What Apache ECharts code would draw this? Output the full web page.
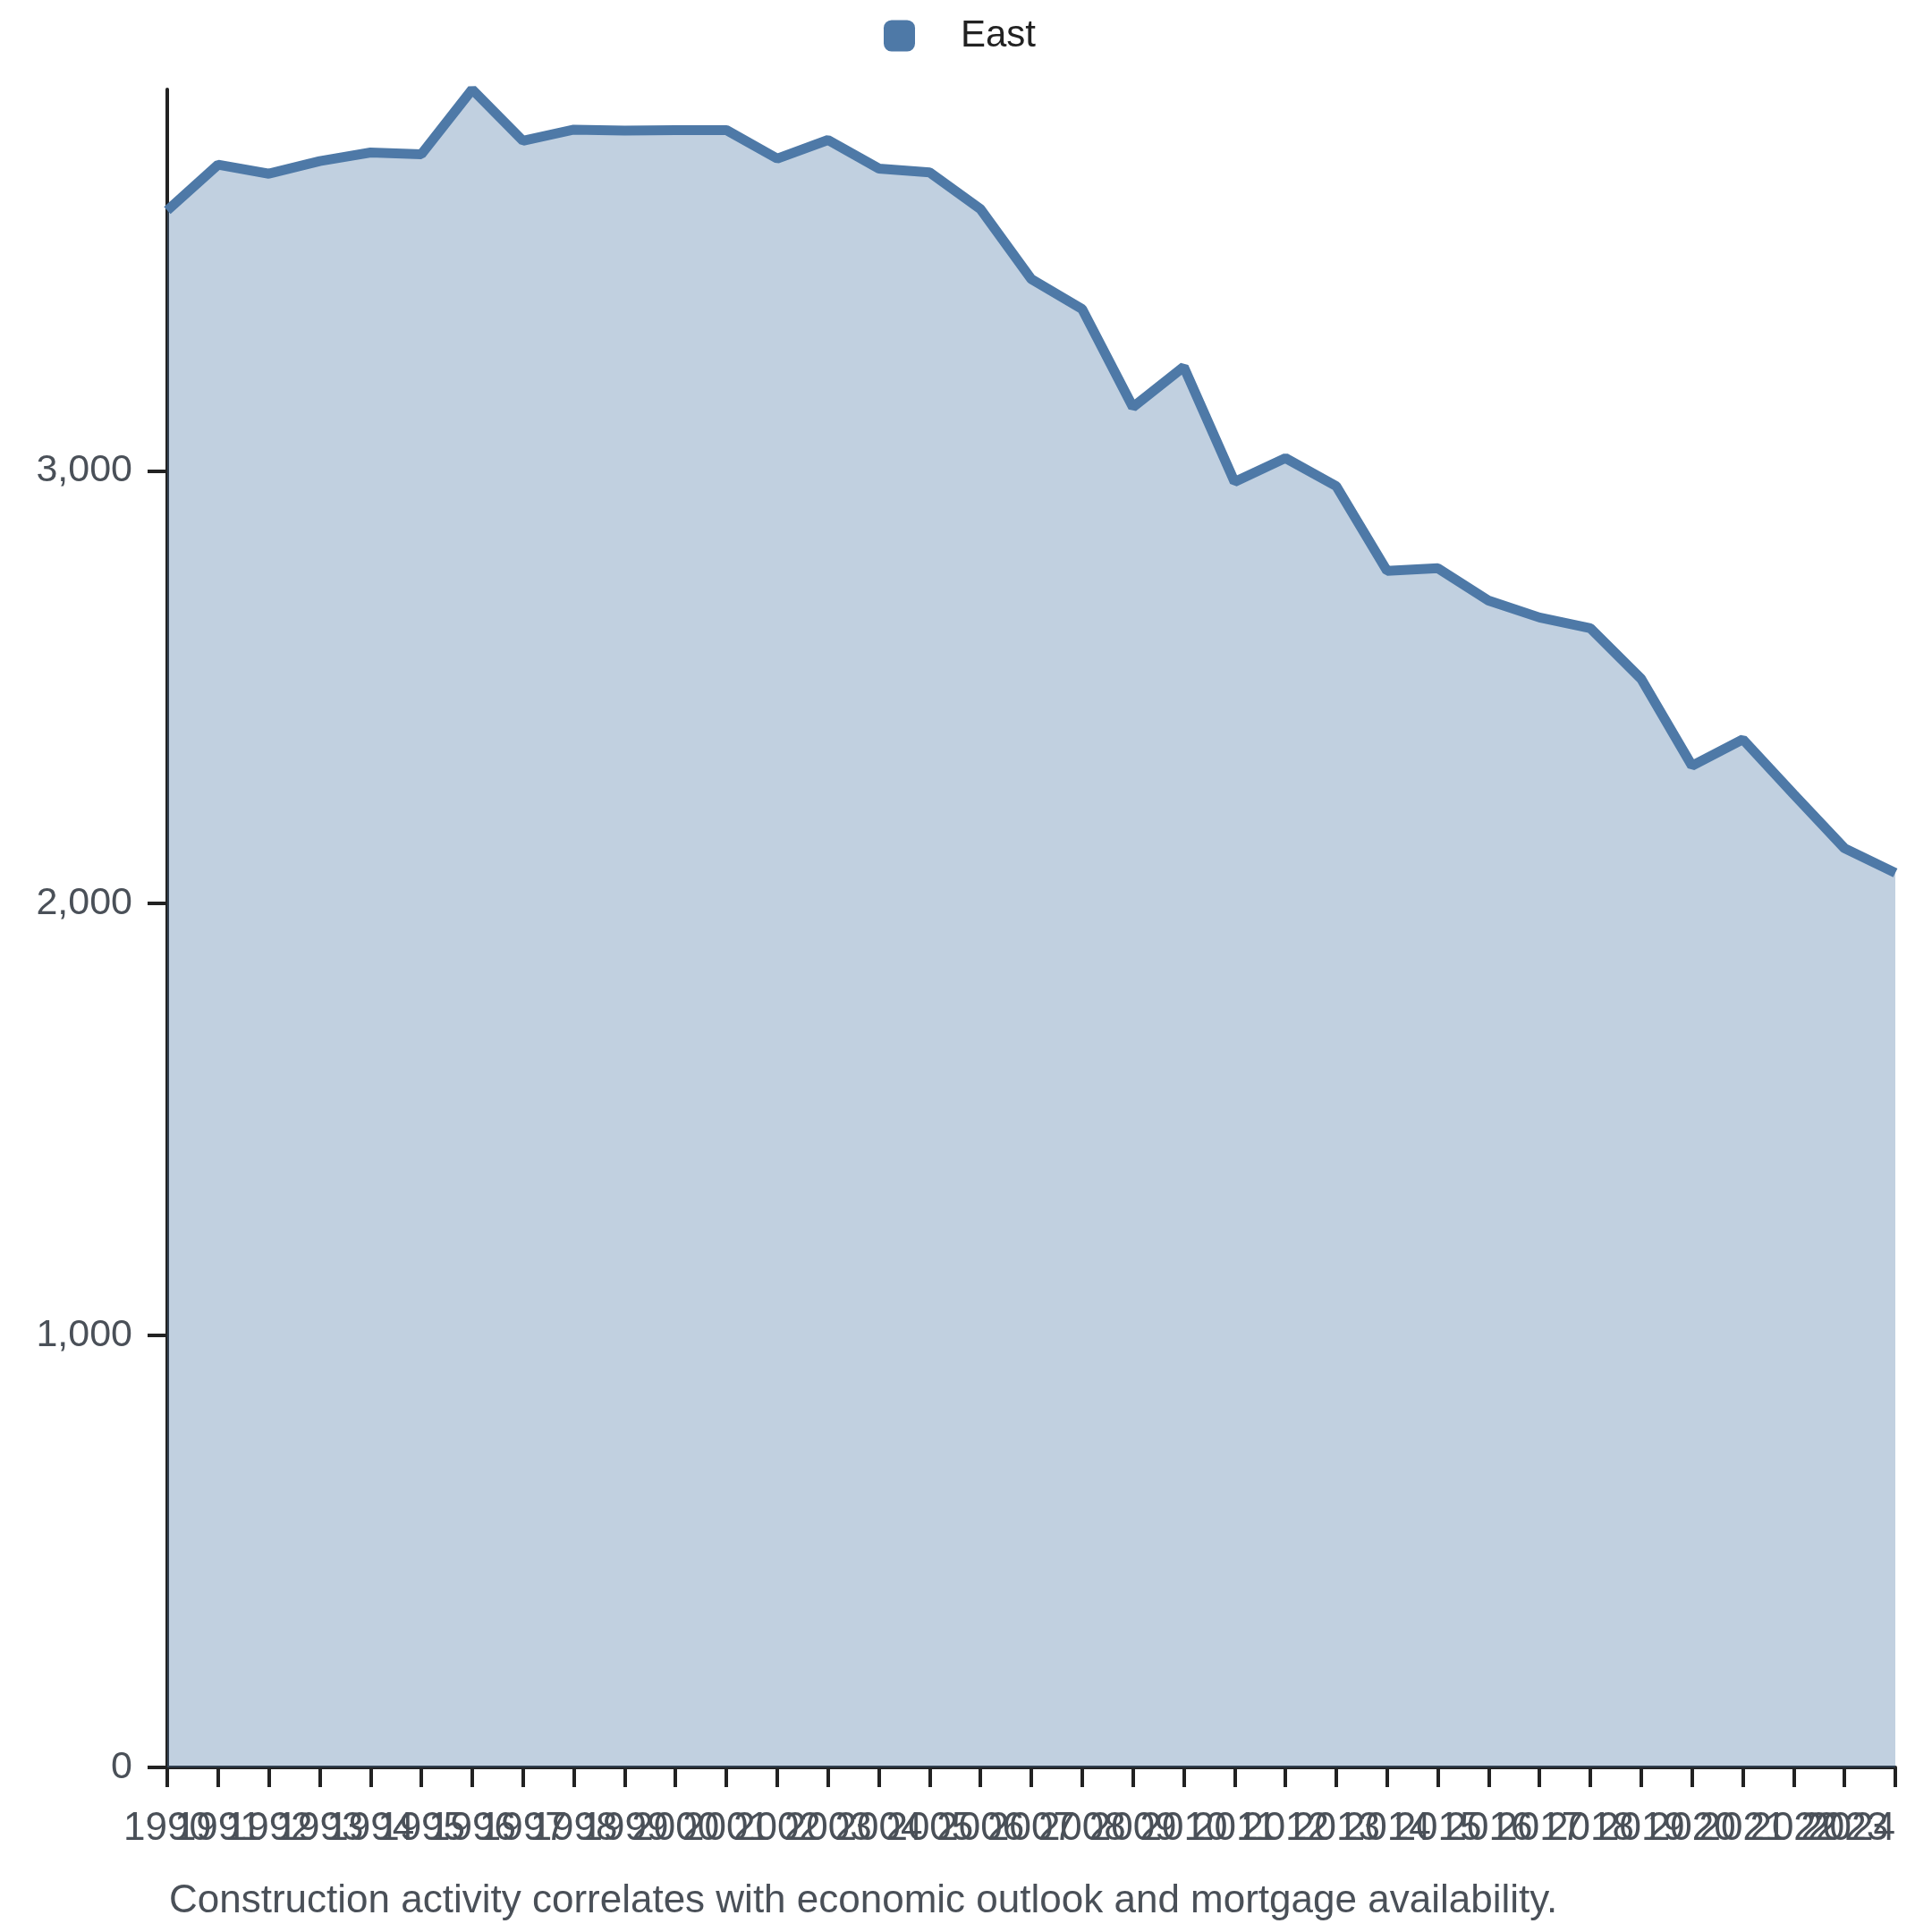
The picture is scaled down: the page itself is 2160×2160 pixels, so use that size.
<!DOCTYPE html>
<html>
<head>
<meta charset="utf-8">
<script src="https://cdn.jsdelivr.net/npm/echarts@6/dist/echarts.min.js"></script>
<style>
  html, body { margin: 0; padding: 0; background: #ffffff; }
  #chart { width: 2160px; height: 2160px; }
</style>
</head>
<body>
<div id="chart"></div>
<script>
const years = ['1990','1991','1992','1993','1994','1995','1996','1997','1998','1999','2000','2001','2002','2003','2004','2005','2006','2007','2008','2009','2010','2011','2012','2013','2014','2015','2016','2017','2018','2019','2020','2021','2022','2023','2024'];
const eastValues = [3603,3709,3688,3717,3737,3733,3883,3764,3790,3788,3789,3789,3723,3766,3700,3691,3606,3444,3375,3148,3241,2975,3030,2965,2769,2775,2700,2661,2636,2519,2318,2379,2252,2127,2070];
const yTicks = [0, 1000, 2000, 3000];
const seriesName = 'East';
const caption = 'Construction activity correlates with economic outlook and mortgage availability.';

const FONT = '"Liberation Sans", Arial, sans-serif';
const chart = echarts.init(document.getElementById('chart'), null, { renderer: 'canvas' });

chart.setOption({
  animation: false,
  backgroundColor: '#ffffff',
  legend: {
    top: 19,
    left: 988,
    padding: 0,
    itemWidth: 35,
    itemHeight: 35,
    icon: 'roundRect',
    textStyle: { fontFamily: FONT, fontSize: 42, color: '#222222', padding: [0, 0, 0, 46] },
    data: [seriesName]
  },
  grid: { left: 187, right: 41, top: 100, bottom: 184, containLabel: false, outerBoundsMode: 'none' },
  xAxis: {
    type: 'category',
    data: years,
    boundaryGap: false,
    axisLine: { lineStyle: { color: '#222222', width: 4 } },
    axisTick: { show: true, length: 22, alignWithLabel: true, interval: 0, lineStyle: { color: '#222222', width: 4 } },
    axisLabel: { interval: 0, margin: 47, fontFamily: FONT, fontSize: 44, color: '#4a5058', alignMaxLabel: 'right' },
    splitLine: { show: false }
  },
  yAxis: {
    type: 'value',
    min: 0,
    max: 'dataMax',
    interval: 1000,
    axisLine: { show: true, lineStyle: { color: '#222222', width: 4 } },
    axisTick: { show: true, length: 22, customValues: yTicks, lineStyle: { color: '#222222', width: 4 } },
    axisLabel: {
      margin: 39, fontFamily: FONT, fontSize: 43, color: '#4a5058',
      customValues: yTicks,
      formatter: v => v.toLocaleString('en-US')
    },
    splitLine: { show: false }
  },
  series: [{
    name: seriesName,
    type: 'line',
    data: eastValues,
    symbol: 'none',
    color: '#4e79a7',
    lineStyle: { width: 11, color: '#4e79a7' },
    areaStyle: { color: '#4e79a7', opacity: 0.35 }
  }],
  graphic: [{
    type: 'text',
    left: 189,
    top: 2104,
    style: { text: caption, fontFamily: FONT, fontSize: 44, fill: '#4a5058' }
  }]
});
</script>
</body>
</html>
